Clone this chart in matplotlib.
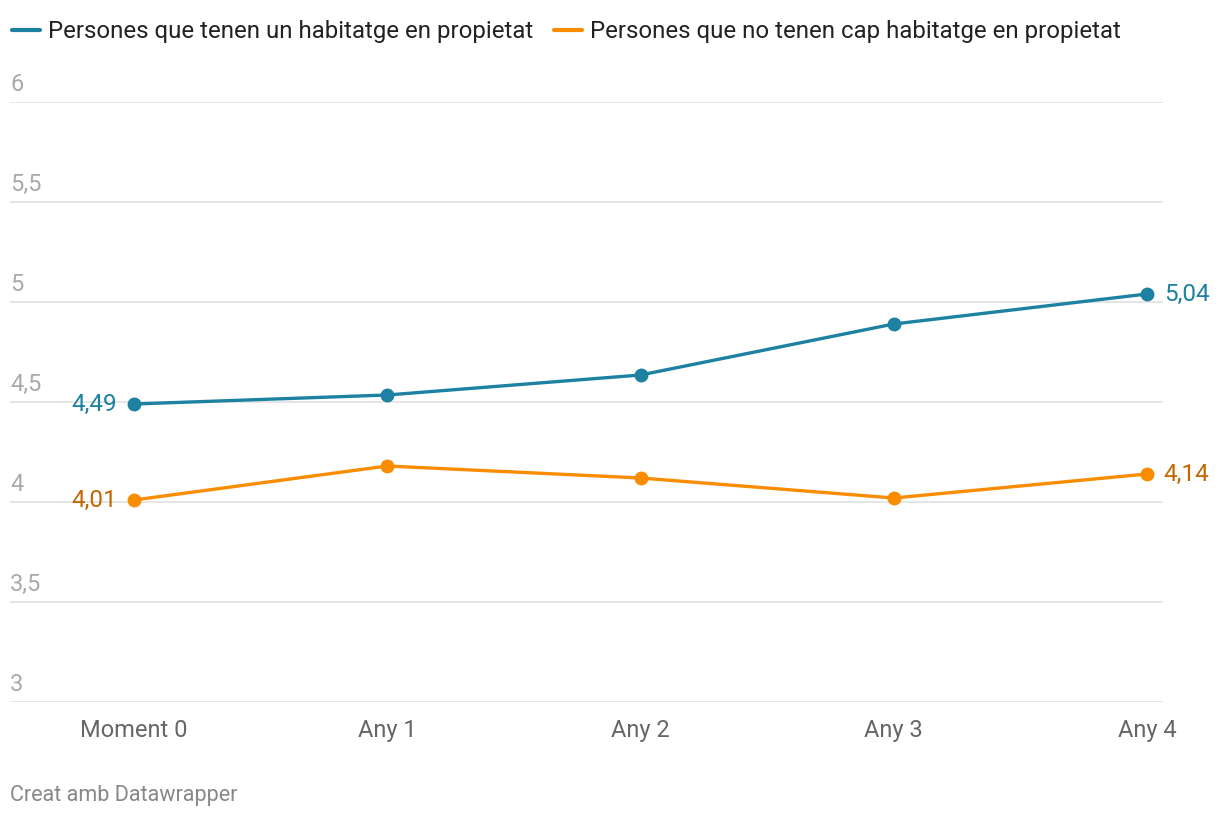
import matplotlib.pyplot as plt
from matplotlib.lines import Line2D

plt.rcParams['font.family'] = ['Roboto', 'DejaVu Sans']

periods = ['Moment 0', 'Any 1', 'Any 2', 'Any 3', 'Any 4']
owners = [4.49, 4.535, 4.635, 4.89, 5.04]
non_owners = [4.01, 4.18, 4.12, 4.02, 4.14]
owners_label = 'Persones que tenen un habitatge en propietat'
non_owners_label = 'Persones que no tenen cap habitatge en propietat'
yticks = [3, 3.5, 4, 4.5, 5, 5.5, 6]

BLUE = '#1d81a2'
ORANGE = '#fa8c00'
ORANGE_TEXT = '#c36800'


def fmt(v):
    return f'{v:g}'.replace('.', ',')


fig = plt.figure(figsize=(12.2, 8.18), dpi=100)
ax = fig.add_axes([10 / 1220, 1 - 702 / 818, 1153 / 1220, 600 / 818])

x = range(len(periods))
ax.plot(x, owners, color=BLUE, lw=2.4, marker='o', ms=9, zorder=3,
        solid_capstyle='round')
ax.plot(x, non_owners, color=ORANGE, lw=2.4, marker='o', ms=9, zorder=3,
        solid_capstyle='round')

ax.set_ylim(3, 6)
ax.set_xlim(-124 / 253.25, 4 + 16 / 253.25)

for s in ax.spines.values():
    s.set_visible(False)
for y in yticks:
    ax.axhline(y, color='#e0e0e0', lw=1.2, zorder=1)
    ax.annotate(fmt(y), (0, y), xycoords=('axes fraction', 'data'),
                xytext=(0, 4), textcoords='offset points',
                ha='left', va='bottom', fontsize=17, color='#aaaaaa')
ax.set_yticks([])
ax.set_xticks(list(x))
ax.set_xticklabels(periods, fontsize=17, color='#666666')
ax.tick_params(axis='x', length=0, pad=12)

# end labels
lab = dict(textcoords='offset points', va='center', fontsize=17.5,
           annotation_clip=False)
ax.annotate(fmt(owners[0]), (0, owners[0]), xytext=(-12, 0), ha='right',
            color=BLUE, **lab)
ax.annotate(fmt(non_owners[0]), (0, non_owners[0]), xytext=(-12, 0),
            ha='right', color=ORANGE_TEXT, **lab)
ax.annotate(fmt(owners[-1]), (4, owners[-1]), xytext=(12, 0), ha='left',
            color=BLUE, **lab)
ax.annotate(fmt(non_owners[-1]), (4, non_owners[-1]), xytext=(12, 0),
            ha='left', color=ORANGE_TEXT, **lab)

handles = [Line2D([], [], color=BLUE, lw=3, solid_capstyle='round'),
           Line2D([], [], color=ORANGE, lw=3, solid_capstyle='round')]
fig.legend(handles, [owners_label, non_owners_label], loc='upper left',
           bbox_to_anchor=(12 / 1220, 1 - 20 / 818), ncol=2, frameon=False,
           fontsize=17.3, borderpad=0, borderaxespad=0,
           handlelength=1.15, handletextpad=0.33, columnspacing=0.9,
           labelcolor='#222222')

fig.text(10 / 1220, 1 - 795 / 818, 'Creat amb Datawrapper', fontsize=15.5,
         color='#888888', ha='left', va='center')

fig.savefig('out.png', dpi=100)
